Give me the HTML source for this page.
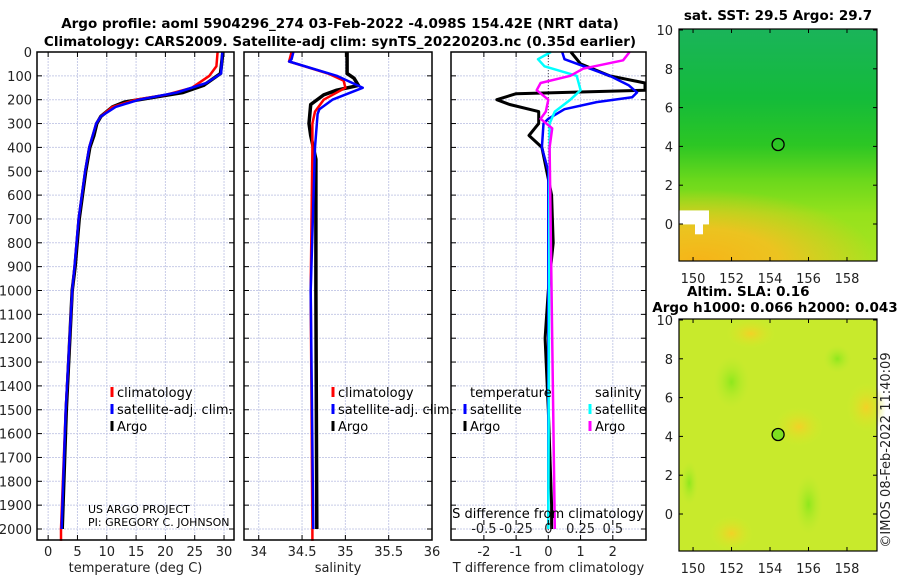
<!DOCTYPE html>
<html><head><meta charset="utf-8"><style>
html,body{margin:0;padding:0;background:#fff}
svg{display:block;font-family:"DejaVu Sans","Liberation Sans",sans-serif}
.tk{font-size:13px;fill:#222}
.tt{font-size:13.5px;font-weight:bold;fill:#000}
.lg{font-size:13px;fill:#000}
</style></head><body>
<svg id="chart" width="900" height="580" viewBox="0 0 900 580">
<defs>
<linearGradient id="sstg" x1="0" y1="0" x2="0" y2="1">
<stop offset="0" stop-color="#1ab45a"/><stop offset="0.3" stop-color="#14bb3a"/>
<stop offset="0.5" stop-color="#2cc624"/><stop offset="0.65" stop-color="#6ad81c"/>
<stop offset="0.8" stop-color="#96e21c"/><stop offset="1" stop-color="#a8e420"/>
</linearGradient>
<radialGradient id="orng" cx="0.1" cy="1" r="0.9">
<stop offset="0" stop-color="#f6b418"/><stop offset="0.45" stop-color="#f4c020" stop-opacity="0.9"/><stop offset="1" stop-color="#f4c020" stop-opacity="0"/>
</radialGradient>
<radialGradient id="grnb"><stop offset="0" stop-color="#8ee81c"/><stop offset="1" stop-color="#b8ea2c" stop-opacity="0"/></radialGradient>
<radialGradient id="yelb"><stop offset="0" stop-color="#f2d226"/><stop offset="1" stop-color="#d4ea28" stop-opacity="0"/></radialGradient>
</defs>
<g id="profiles"></g>
<g id="maps"></g>
<text class="tt" x="340" y="28" text-anchor="middle">Argo profile: aoml 5904296_274 03-Feb-2022 -4.098S 154.42E (NRT data)</text>
<text class="tt" x="340" y="46" text-anchor="middle">Climatology: CARS2009. Satellite-adj clim: synTS_20220203.nc (0.35d earlier)</text>
<text class="tk" x="890" y="450" text-anchor="middle" transform="rotate(-90 890 450)">©IMOS 08-Feb-2022 11:40:09</text>
</svg>
<script>
// ---- data ----
const depthTicks=[0,100,200,300,400,500,600,700,800,900,1000,1100,1200,1300,1400,1500,1600,1700,1800,1900,2000];
const tTicks=[0,5,10,15,20,25,30];
const sTicks=[34,34.5,35,35.5,36];
const dTicks=[-2,-1,0,1,2];
const sdTicks=[-0.5,-0.25,0,0.25,0.5];
const tClimD=[0,60,100,150,180,200,230,270,300,400,500,700,900,1000,1500,2000,2050];
const tClimV=[28.9,28.7,27.5,24.5,20,15,11,9,8.2,7,6.3,5.2,4.5,4.1,3,2.2,2.2];
const tSatD=[0,90,130,170,200,230,270,300,400,500,700,900,1000,1500,2000];
const tSatV=[29.7,29.5,27,22,15.5,11.5,9,8.2,7,6.3,5.2,4.5,4.1,3,2.3];
const tArgoD=[0,90,140,170,190,210,230,270,300,350,400,500,700,900,1000,1500,2000];
const tArgoV=[29.8,29.4,26.5,23,18,13,11,9,8.3,7.8,7.1,6.4,5.3,4.6,4.1,3.1,2.4];
const sClimD=[0,40,90,120,150,200,250,300,400,1000,2000,2050];
const sClimV=[34.38,34.35,34.8,34.98,35.0,34.75,34.65,34.62,34.62,34.6,34.62,34.62];
const sSatD=[0,30,40,100,150,200,240,260,400,1000,2000];
const sSatV=[34.4,34.38,34.35,34.9,35.2,34.85,34.7,34.68,34.65,34.6,34.63];
const sArgoD=[0,90,110,140,160,180,220,300,350,450,1000,2000];
const sArgoV=[35.02,35.02,35.1,35.15,34.9,34.75,34.6,34.58,34.6,34.66,34.66,34.67];
const dtArgoD=[0,50,100,130,160,175,200,220,250,300,350,400,600,800,1000,1200,1500,1900,2000];
const dtArgoV=[0.7,1.0,1.9,3.0,3.0,-1.0,-1.6,-1.2,-0.3,-0.3,-0.6,-0.2,0.1,0.15,0,-0.1,0,0.1,0.1];
const dtSatD=[0,30,60,100,140,170,190,210,240,280,300,400,500,2000];
const dtSatV=[0.43,0.5,1.1,1.9,2.5,2.75,2.6,1.5,0.5,0,-0.15,-0.2,0,0];
const dsSatD=[0,30,60,100,160,200,250,300,2000];
const dsSatV=[0.02,-0.08,-0.03,0.22,0.25,0.17,0.05,0.01,0];
const dsArgoD=[0,35,70,100,130,160,200,250,280,320,400,2000];
const dsArgoV=[0.63,0.58,0.27,0.17,-0.06,-0.09,0,-0.02,-0.06,0.03,0.01,0.05];
const mapXTicks=[150,152,154,156,158];
const mapYTicks=[0,2,4,6,8,10];
const argoLon=[154.42], argoLat=[4.098];
// ---- helpers ----
const NS='http://www.w3.org/2000/svg';
function mk(tag,attrs,parent){const e=document.createElementNS(NS,tag);for(const k in attrs)e.setAttribute(k,attrs[k]);parent.appendChild(e);return e;}
const yD=d=>52+d*(477/2000);
const P=document.getElementById('profiles');
const panels=[
 {x0:37,x1:234,lo:-1.9,hi:31.7,ticks:tTicks,lab:'temperature (deg C)',name:'temperature'},
 {x0:244,x1:432,lo:33.83,hi:36.0,ticks:sTicks,lab:'salinity',name:'salinity'},
 {x0:451,x1:646,lo:-3.02,hi:3.03,ticks:dTicks,lab:'T difference from climatology',name:'difference'}];
panels.forEach((p,i)=>{
 p.x=v=>p.x0+(v-p.lo)/(p.hi-p.lo)*(p.x1-p.x0);
 const g=mk('g',{},P);
 
 
 depthTicks.forEach(d=>{const l=mk('line',{x1:p.x0,x2:p.x1,y1:yD(d),y2:yD(d),stroke:'#c8cce8','stroke-width':1,'stroke-dasharray':'2,1'},g);
  
  mk('line',{x1:p.x0,x2:p.x0+5,y1:yD(d),y2:yD(d),stroke:'#000'},g);mk('line',{x1:p.x1-5,x2:p.x1,y1:yD(d),y2:yD(d),stroke:'#000'},g);
  if(i==0){const t=mk('text',{x:32,y:yD(d)+5,'text-anchor':'end',class:'tk'},g);t.textContent=d;
   }
 });
 p.ticks.forEach(v=>{const X=p.x(v);mk('line',{x1:X,x2:X,y1:52,y2:540,stroke:'#c8cce8','stroke-dasharray':'2,1'},g);
  mk('line',{x1:X,x2:X,y1:540,y2:535,stroke:'#000'},g);mk('line',{x1:X,x2:X,y1:52,y2:57,stroke:'#000'},g);
  const t=mk('text',{x:X,y:556,'text-anchor':'middle',class:'tk'},g);t.textContent=v;
  });
 const al=mk('text',{x:(p.x0+p.x1)/2,y:572,'text-anchor':'middle',class:'tk'},g);al.textContent=p.lab;
 
 p.g=g;
});
function line(p,D,V,col,w,name,sc){const pts=D.map((d,k)=>p.x(V[k]*(sc||1)).toFixed(1)+','+yD(d).toFixed(1)).join(' ');
 const e=mk('polyline',{points:pts,fill:'none',stroke:col,'stroke-width':w,'stroke-linejoin':'round'},p.g);
 }
const [pt,ps,pd]=panels;
mk('line',{x1:pd.x(0),x2:pd.x(0),y1:52,y2:540,stroke:'#555','stroke-dasharray':'1,2'},pd.g);
line(pt,tArgoD,tArgoV,'#000',3.5,'temp-argo-line');
line(pt,tClimD,tClimV,'#f00',2.5,'temp-climatology-line');
line(pt,tSatD,tSatV,'#00f',2.5,'temp-satellite-line');
line(ps,sArgoD,sArgoV,'#000',3.5,'sal-argo-line');
line(ps,sClimD,sClimV,'#f00',2.5,'sal-climatology-line');
line(ps,sSatD,sSatV,'#00f',2.5,'sal-satellite-line');
line(pd,dtArgoD,dtArgoV,'#000',3,'tdiff-argo-line');
line(pd,dtSatD,dtSatV,'#00f',2.5,'tdiff-satellite-line');
line(pd,dsSatD,dsSatV,'#0ff',2.5,'sdiff-satellite-line',4);
line(pd,dsArgoD,dsArgoV,'#f0f',2.5,'sdiff-argo-line',4);
panels.forEach(p=>{const r=mk('rect',{x:p.x0,y:52,width:p.x1-p.x0,height:488,fill:'none',stroke:'#000','stroke-width':1.5},p.g);
 });
sdTicks.forEach(v=>{const t=mk('text',{x:pd.x(v*4),y:533,'text-anchor':'middle',class:'tk'},pd.g);t.textContent=v;
 
 mk('line',{x1:pd.x(v*4),x2:pd.x(v*4),y1:520,y2:525,stroke:'#000'},pd.g);});
function txt(x,y,s,cls,name,anchor){const t=mk('text',{x:x,y:y,class:cls,'text-anchor':anchor||'start'},P);t.textContent=s;
 return t;}
txt(548,518,'S difference from climatology','lg','sdiff-axis-title','middle');
function leg(x,y,col,s,name){const l=mk('line',{x1:x,x2:x,y1:y-10,y2:y,stroke:col,'stroke-width':3},P);
 txt(x+5,y,s,'lg',name);}
leg(112,397,'#f00','climatology','legend-climatology');
leg(112,414,'#00f','satellite-adj. clim.','legend-satellite');
leg(112,431,'#000','Argo','legend-argo');
leg(333,397,'#f00','climatology','legend-sal-climatology');
leg(333,414,'#00f','satellite-adj. clim.','legend-sal-satellite');
leg(333,431,'#000','Argo','legend-sal-argo');
txt(470,397,'temperature','lg','legend-temperature-header');
leg(465,414,'#00f','satellite','legend-tdiff-satellite');
leg(465,431,'#000','Argo','legend-tdiff-argo');
txt(595,397,'salinity','lg','legend-salinity-header');
leg(590,414,'#0ff','satellite','legend-sdiff-satellite');
leg(590,431,'#f0f','Argo','legend-sdiff-argo');
txt(88,513,'US ARGO PROJECT','lg','project-label').setAttribute('style','font-size:11px');
txt(88,526,'PI: GREGORY C. JOHNSON','lg','pi-label').setAttribute('style','font-size:11px');
// ---- maps ----
const M=document.getElementById('maps');
const mx=v=>679+(v-149.27)*(198/10.29);
function map(top,name,fill,extra){
 const g=mk('g',{},M);
 const my=v=>top+1+(10-v)*19.4;
 mk('rect',{x:679,y:top,width:198,height:232,fill:fill},g);
 extra(g,my);
 mapXTicks.forEach(v=>{mk('line',{x1:mx(v),x2:mx(v),y1:top+232,y2:top+228,stroke:'#000'},g);mk('line',{x1:mx(v),x2:mx(v),y1:top,y2:top+4,stroke:'#000'},g);
  const t=mk('text',{x:mx(v),y:top+254,'text-anchor':'middle',class:'tk'},g);t.textContent=v;
  });
 mapYTicks.forEach(v=>{mk('line',{x1:679,x2:683,y1:my(v),y2:my(v),stroke:'#000'},g);mk('line',{x1:877,x2:873,y1:my(v),y2:my(v),stroke:'#000'},g);
  const t=mk('text',{x:673,y:my(v)+5,'text-anchor':'end',class:'tk'},g);t.textContent=v;
  });
 const c=mk('circle',{cx:mx(argoLon[0]),cy:my(argoLat[0]),r:6,fill:name=='sla-map'?'#7ee020':'none',stroke:'#000','stroke-width':1.3},g);
 
 mk('rect',{x:679,y:top,width:198,height:232,fill:'none',stroke:'#000','stroke-width':1.2},g);
}
map(29,'sst-map','url(#sstg)',(g,my)=>{
 mk('rect',{x:679,y:my(2.2),width:198,height:my(-1.9)-my(2.2),fill:'url(#orng)'},g);
 mk('rect',{x:679,y:my(0.7),width:30,height:14,fill:'#fff'},g);
 mk('rect',{x:695,y:my(0.5),width:8,height:20,fill:'#fff'},g);
});
map(319,'sla-map','#c8ea2c',(g,my)=>{
 [[152,6.8,18,26],[149.8,1.6,9,22],[156,0.5,14,30],[157.5,8,14,14]].forEach(a=>mk('ellipse',{cx:mx(a[0]),cy:my(a[1]),rx:a[2],ry:a[3],fill:'url(#grnb)'},g));
 [[153,9.3,25,15],[159,5.5,20,25],[152,-1,22,18],[155.5,4.5,25,20]].forEach(a=>mk('ellipse',{cx:mx(a[0]),cy:my(a[1]),rx:a[2],ry:a[3],fill:'url(#yelb)'},g));
});
txt(778,20,'sat. SST: 29.5 Argo: 29.7','tt','sst-map-title','middle');
txt(687,296,'Altim. SLA: 0.16','tt','sla-map-title','start');
txt(775,312,'Argo h1000: 0.066 h2000: 0.043','tt','sla-map-subtitle','middle');
</script>
</body></html>
